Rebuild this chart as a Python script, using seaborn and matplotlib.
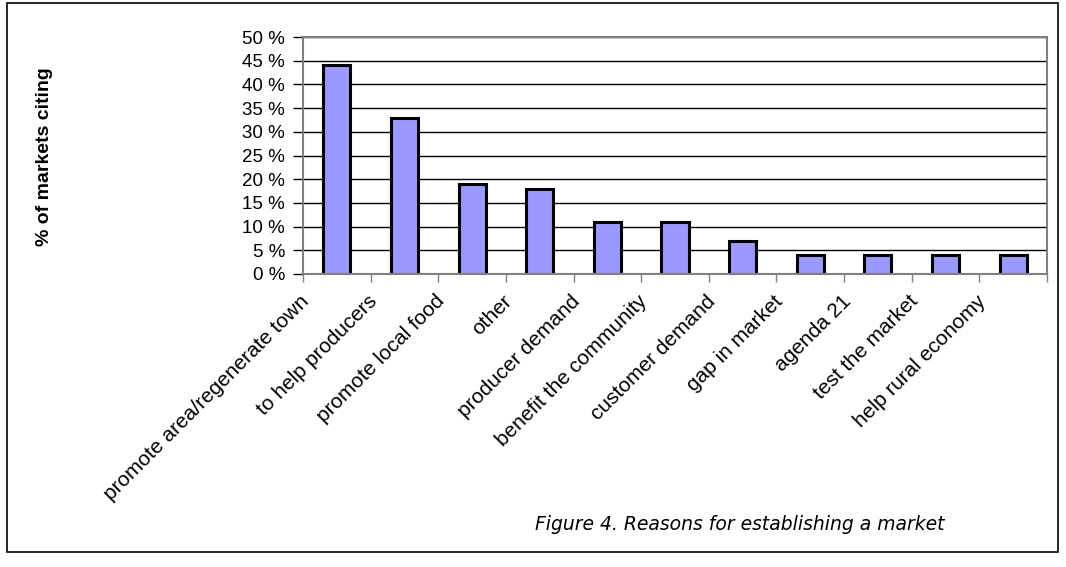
import matplotlib
matplotlib.use("Agg")
import matplotlib.pyplot as plt
from matplotlib.patches import Rectangle
from matplotlib.ticker import FixedLocator, FuncFormatter
import matplotlib.transforms as mtransforms
import numpy as np
import pandas as pd
import seaborn as sns

reasons = [
    "promote area/regenerate town",
    "to help producers",
    "promote local food",
    "other",
    "producer demand",
    "benefit the community",
    "customer demand",
    "gap in market",
    "agenda 21",
    "test the market",
    "help rural economy",
]
pct_citing = [44, 33, 19, 18, 11, 11, 7, 4, 4, 4, 4]

df = pd.DataFrame({"reason": reasons, "pct": pct_citing})

sns.set_style("white")
plt.rcParams["font.family"] = ["Liberation Sans", "DejaVu Sans"]
plt.rcParams["text.color"] = "black"
plt.rcParams["xtick.color"] = "black"
plt.rcParams["ytick.color"] = "black"
plt.rcParams["xtick.labelcolor"] = "black"
plt.rcParams["ytick.labelcolor"] = "black"

fig = plt.figure(figsize=(10.66, 5.67), dpi=100)
ax = fig.add_axes([303 / 1066, 1 - 274 / 567, (1047 - 303) / 1066, (274 - 37) / 567])

sns.barplot(data=df, x="reason", y="pct", color="#9999FF", edgecolor="black",
            linewidth=2.2, width=0.4, saturation=1, ax=ax)

ax.set_ylim(0, 50)
ax.set_xlim(-0.5, len(reasons) - 0.5)
ax.set_yticks(np.arange(0, 51, 5))
ax.yaxis.set_major_formatter(FuncFormatter(lambda v, p: f"{int(v)} %"))
ax.yaxis.grid(True, color="black", linewidth=1.0)
ax.set_axisbelow(True)
for s in ax.spines.values():
    s.set_visible(True)
    s.set_color("#808080")
    s.set_linewidth(1.5)

ax.tick_params(axis="y", which="major", length=7, width=1.0, color="black",
               labelsize=13.5, pad=6, direction="out", left=True)

# category boundary ticks on the x axis
ax.xaxis.set_minor_locator(FixedLocator(np.arange(-0.5, len(reasons), 1.0)))
ax.tick_params(axis="x", which="minor", length=6, width=1.0, color="#808080",
               direction="out", bottom=True)
ax.tick_params(axis="x", which="major", length=0, labelsize=15, pad=4)
ax.set_xticks(range(len(reasons)))
ax.set_xticklabels(reasons, rotation=45, ha="right", va="top", rotation_mode="anchor")
offset = mtransforms.ScaledTranslation(-37 / 100, -12 / 100, fig.dpi_scale_trans)
for lbl in ax.get_xticklabels():
    lbl.set_transform(lbl.get_transform() + offset)

ax.set_xlabel("")
ax.set_ylabel("")
fig.text(45 / 1066, 1 - 157 / 567, "% of markets citing", rotation=90,
         ha="center", va="center", fontsize=14, fontweight="bold")

fig.text(740 / 1066, 1 - 525 / 567, "Figure 4. Reasons for establishing a market",
         ha="center", va="center", fontsize=13.5, style="italic",
         family=["DejaVu Sans"])

fig.patches.append(Rectangle((7 / 1066, 1 - 552 / 567), (1058 - 7) / 1066,
                             (552 - 3) / 567, transform=fig.transFigure,
                             fill=False, edgecolor="black", linewidth=1.2))

fig.savefig("out.png", dpi=100)
